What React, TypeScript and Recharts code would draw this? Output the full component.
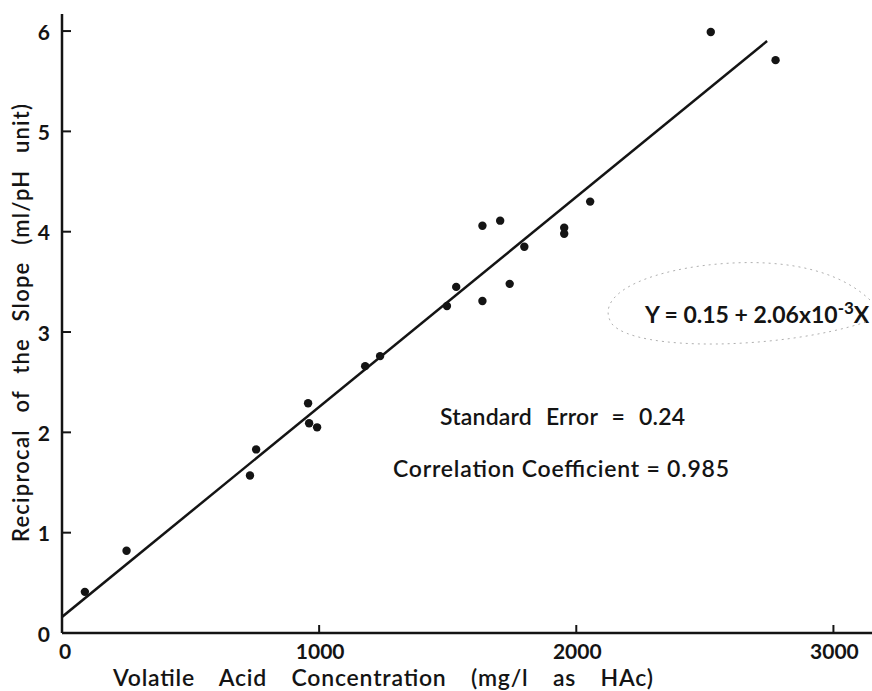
import { Scatter, ScatterChart, XAxis, YAxis } from "recharts";

// volatile acid (mg/l as HAc) vs reciprocal of buffer slope (ml/pH unit)
const volatileAcid = [89, 251, 731, 755, 957, 961, 992, 1179, 1237, 1497, 1533, 1635, 1704, 1635, 1741, 1798, 1953, 1953, 2054, 2523, 2775];
const reciprocalSlope = [0.41, 0.82, 1.57, 1.83, 2.29, 2.09, 2.05, 2.66, 2.76, 3.26, 3.45, 4.06, 4.11, 3.31, 3.48, 3.85, 4.04, 3.98, 4.3, 5.99, 5.71];

// fitted line as drawn: Y = 0.15 + 2.06e-3 X
const fitX = [0, 2742];
const fitY = [0.16, 5.9];

const xTicks = [0, 1000, 2000, 3000];
const yTicks = [0, 1, 2, 3, 4, 5, 6];

const points = volatileAcid.map((x, i) => ({ x, y: reciprocalSlope[i] }));
const fitLine = fitX.map((x, i) => ({ x, y: fitY[i] }));

const FONT = "Lato, 'Open Sans', sans-serif";
const INK = "#141414";

function YTick({ x, y, payload }: any) {
  return (
    <g>
      <line x1={x} x2={x + 9} y1={y} y2={y} stroke={INK} strokeWidth={2} />
      <text x={x - 12} y={y} textAnchor="end" dominantBaseline="central" fontFamily={FONT} fontWeight={700} fontSize={21} fill={INK}>
        {payload.value}
      </text>
    </g>
  );
}

function XTick({ x, y, payload }: any) {
  const v = payload.value;
  return (
    <g>
      {v !== 0 && <line x1={x} x2={x} y1={y} y2={y - 8} stroke={INK} strokeWidth={2} />}
      <text x={v === 0 ? x + 3 : x + 1} y={y + 17} textAnchor="middle" dominantBaseline="central" fontFamily={FONT} fontWeight={700} fontSize={21} fill={INK}>
        {v}
      </text>
    </g>
  );
}

function Dot({ cx, cy }: any) {
  return <circle cx={cx} cy={cy} r={4.2} fill={INK} />;
}

export default function App() {
  return (
    <div style={{ position: "absolute", left: 0, top: 0, width: 872, height: 691, background: "#fff" }}>
      <ScatterChart width={872} height={691} margin={{ top: 14, right: 0, bottom: 57, left: 61 }}>
        <XAxis
          type="number"
          dataKey="x"
          domain={[0, 3150]}
          ticks={xTicks}
          allowDataOverflow
          height={1}
          tickSize={0}
          tickMargin={0}
          tickLine={false}
          axisLine={{ stroke: INK, strokeWidth: 2.5 }}
          tick={<XTick />}
        />
        <YAxis
          type="number"
          dataKey="y"
          domain={[0, 6.17]}
          ticks={yTicks}
          allowDataOverflow
          width={1}
          tickSize={0}
          tickMargin={0}
          tickLine={false}
          axisLine={{ stroke: INK, strokeWidth: 2.5 }}
          tick={<YTick />}
        />
        <Scatter data={fitLine} line={{ stroke: INK, strokeWidth: 2.5 }} shape={() => <g />} isAnimationActive={false} />
        <Scatter data={points} shape={<Dot />} isAnimationActive={false} />
      </ScatterChart>
      <svg width={872} height={691} style={{ position: "absolute", left: 0, top: 0, pointerEvents: "none" }}>
        <text
          transform="translate(29 323) rotate(-90)"
          textAnchor="middle"
          fontFamily={FONT}
          fontWeight={600}
          fontSize={22}
          fill={INK}
          textLength={438}
          lengthAdjust="spacing"
          wordSpacing={10}
        >
          Reciprocal of the Slope (ml/pH unit)
        </text>
        <text x={113} y={686} fontFamily={FONT} fontWeight={600} fontSize={23} fill={INK} textLength={540} lengthAdjust="spacing" wordSpacing={18}>
          Volatile Acid Concentration (mg/l as HAc)
        </text>
        <text x={440} y={425} fontFamily={FONT} fontWeight={600} fontSize={23} fill={INK} textLength={245} lengthAdjust="spacing" wordSpacing={8}>
          Standard Error = 0.24
        </text>
        <text x={393} y={477} fontFamily={FONT} fontWeight={600} fontSize={23} fill={INK} textLength={336} lengthAdjust="spacing">
          Correlation Coefficient = 0.985
        </text>
        <text x={645} y={323} fontFamily={FONT} fontWeight={700} fontSize={23} fill={INK}>
          Y = 0.15 + 2.06x10<tspan dy={-9} fontSize={17}>-3</tspan>
          <tspan dy={9}>X</tspan>
        </text>
        <path
          d="M 870 300 C 830 262 760 258 700 266 C 630 276 596 300 612 324 C 636 352 780 350 866 322"
          fill="none"
          stroke="#b0b0b0"
          strokeWidth={1}
          strokeDasharray="2 4"
        />
      </svg>
    </div>
  );
}
